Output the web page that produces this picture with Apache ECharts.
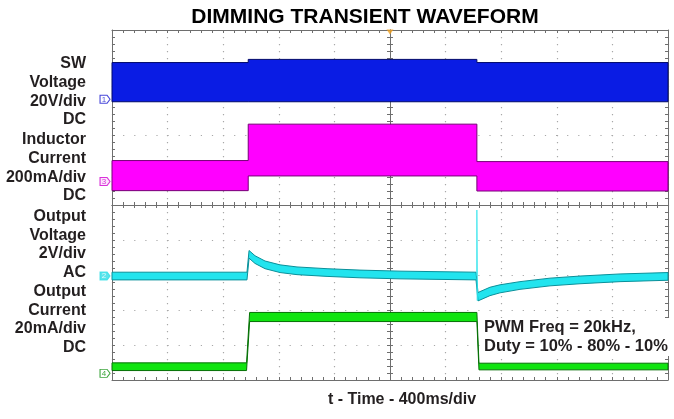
<!DOCTYPE html>
<html><head><meta charset="utf-8">
<script src="https://cdn.jsdelivr.net/npm/echarts@6/dist/echarts.min.js"></script>
<style>html,body{margin:0;padding:0;background:#fff}#c{width:674px;height:419px}</style>
</head><body><div id="c"></div><script>
// Time in ms (400 ms/div, trigger at 0); trace levels in screen divisions (centre line = 0)
const swTime   = [-2000, -1020, -1020, 625, 625, 2000];
const swTop    = [4.07, 4.07, 4.16, 4.16, 4.07, 4.07];
const swBottom = [2.95, 2.95, 2.95, 2.95, 2.95, 2.95];

const ilTime   = [-2000, -1020, -1020, 625, 625, 2000];
const ilTop    = [1.27, 1.27, 2.31, 2.31, 1.24, 1.24];
const ilBottom = [0.41, 0.41, 0.83, 0.83, 0.40, 0.40];

const voTime   = [-2000, -1029, -1014, -971, -899, -791, -669, -453, -216, 72, 619, 633, 719, 791, 935, 1151, 1367, 1655, 2000];
const voTop    = [-1.92, -1.92, -1.30, -1.45, -1.60, -1.71, -1.77, -1.82, -1.86, -1.89, -1.92, -2.50, -2.35, -2.28, -2.19, -2.09, -2.03, -1.97, -1.93];
const voBottom = [-2.14, -2.14, -1.52, -1.67, -1.82, -1.93, -1.99, -2.04, -2.08, -2.11, -2.14, -2.74, -2.59, -2.51, -2.41, -2.31, -2.25, -2.19, -2.15];
const voSpikeTime  = [625, 625, 628];
const voSpikeLevel = [-2.02, -0.14, -2.73];

const ioTime   = [-2000, -1032, -1010, 625, 640, 2000];
const ioTop    = [-4.51, -4.51, -3.07, -3.07, -4.52, -4.52];
const ioBottom = [-4.73, -4.73, -3.33, -3.33, -4.71, -4.71];

const channelNames = ['1', '3', '2', '4'];
const channelRef   = [3.02, 0.67, -2.03, -4.81];
const channelMarkerTime = -2050;
const triggerPoint = [0, 5];

const leftLabels = [
  ['SW', 'Voltage', '20V/div', 'DC'],
  ['Inductor', 'Current', '200mA/div', 'DC'],
  ['Output', 'Voltage', '2V/div', 'AC'],
  ['Output', 'Current', '20mA/div', 'DC']
];
const titleText = 'DIMMING TRANSIENT WAVEFORM';
const xLabel = 't - Time - 400ms/div';
const noteText = ['PWM Freq = 20kHz,', 'Duty = 10% - 80% - 10%'];

const FONT = "'Liberation Sans', Arial, Helvetica, sans-serif";
const TXT = '#231f20';
const gridLine = '#6e6e6e';

function zip(a, b) { return a.map((v, i) => [v, b[i]]); }

function band(name, time, top, bottom, fill, edge) {
  return {
    type: 'custom', name, xAxisIndex: 0, yAxisIndex: 0, data: [[0, 0]], silent: true, z: 3,
    renderItem(params, api) {
      const pts = [];
      for (let k = 0; k < time.length; k++) pts.push(api.coord([time[k], top[k]]));
      for (let k = time.length - 1; k >= 0; k--) pts.push(api.coord([time[k], bottom[k]]));
      return { type: 'polygon', shape: { points: pts }, style: { fill, stroke: edge, lineWidth: 1 } };
    }
  };
}

function xAx(pos, onZero, split) {
  return {
    type: 'value', min: -2000, max: 2000, interval: 400, position: pos,
    axisLine: { show: true, onZero: onZero, onZeroAxisIndex: 0, lineStyle: { color: gridLine, width: 1 } },
    axisTick: { show: true, inside: true, length: 3, lineStyle: { color: gridLine } },
    minorTick: { show: true, splitNumber: 5, length: 3, lineStyle: { color: gridLine } },
    axisLabel: { show: false },
    splitLine: { show: split, lineStyle: { color: '#a8a8a8', width: 1.2, type: [1.2, 5.8] } }
  };
}
function yAx(pos, onZero, split) {
  return {
    type: 'value', min: -5, max: 5, interval: 1, position: pos,
    axisLine: { show: true, onZero: onZero, onZeroAxisIndex: 0, lineStyle: { color: gridLine, width: 1 } },
    axisTick: { show: true, inside: true, length: 3, lineStyle: { color: gridLine } },
    minorTick: { show: true, splitNumber: 5, length: 3, lineStyle: { color: gridLine } },
    axisLabel: { show: false },
    splitLine: { show: split, lineStyle: { color: '#a8a8a8', width: 1.2, type: [1.2, 9.9] } }
  };
}

const markerStyles = [
  { fill: '#ffffff', stroke: '#1a1ad0', text: '#1a1ad0' },
  { fill: '#fbe0fb', stroke: '#d000d0', text: '#d000d0' },
  { fill: '#2fdde6', stroke: '#2fdde6', text: '#ffffff' },
  { fill: '#ffffff', stroke: '#109010', text: '#109010' }
];

const graphics = [];
graphics.push({ type: 'text', x: 365, y: 17.5, z: 100,
  style: { text: titleText, fontFamily: FONT, fontSize: 21, fontWeight: 'bold', fill: '#000', align: 'center', verticalAlign: 'middle' } });
const blockCenters = [64, 140, 216.5, 291.5];
leftLabels.forEach((lines, i) => {
  graphics.push({ type: 'text', x: 86, y: blockCenters[i] - 9.3, z: 100,
    style: { text: lines.join('\n'), fontFamily: FONT, fontSize: 16, fontWeight: 'bold', fill: TXT, align: 'right', verticalAlign: 'top', lineHeight: 18.6 } });
});
graphics.push({ type: 'text', x: 402, y: 400, z: 100,
  style: { text: xLabel, fontFamily: FONT, fontSize: 16, fontWeight: 'bold', fill: TXT, align: 'center', verticalAlign: 'middle' } });
graphics.push({ type: 'text', x: 483, y: 318, z: 100,
  style: { text: noteText.join('\n'), fontFamily: FONT, fontSize: 16.5, fontWeight: 'bold', fill: TXT, align: 'left', verticalAlign: 'top', lineHeight: 19, backgroundColor: '#fff', padding: [0, 2, 0, 1] } });

const chart = echarts.init(document.getElementById('c'));
chart.setOption({
  animation: false,
  backgroundColor: '#fff',
  grid: { left: 112, top: 30, width: 556, height: 350, containLabel: false },
  xAxis: [xAx('bottom', false, true), xAx('top', false, false), xAx('bottom', true, false), xAx('top', true, false)],
  yAxis: [yAx('left', false, true), yAx('right', false, false), yAx('left', true, false), yAx('right', true, false)],
  series: [
    band('SW Voltage', swTime, swTop, swBottom, '#0a1ce4', '#00086a'),
    band('Inductor Current', ilTime, ilTop, ilBottom, '#ff00ff', '#760076'),
    band('Output Voltage', voTime, voTop, voBottom, '#22e4ee', '#0a909a'),
    { type: 'line', name: 'Output Voltage spike', data: zip(voSpikeTime, voSpikeLevel), showSymbol: false, z: 4,
      lineStyle: { color: '#30e4ec', width: 1.2 } },
    band('Output Current', ioTime, ioTop, ioBottom, '#10e410', '#067006'),
    { type: 'scatter', name: 'channels', clip: false, z: 10,
      symbol: 'path://M0,0H7L10,4L7,8H0Z', symbolSize: [10, 8],
      data: channelNames.map((n, i) => ({
        value: [channelMarkerTime, channelRef[i]],
        itemStyle: { color: markerStyles[i].fill, borderColor: markerStyles[i].stroke, borderWidth: 1 },
        label: { show: true, formatter: n, position: 'inside', offset: [-1, 0], color: markerStyles[i].text, fontSize: 8, fontFamily: FONT }
      })) },
    { type: 'scatter', name: 'trigger', clip: false, z: 10, symbol: 'triangle', symbolRotate: 180,
      symbolSize: [7, 5], symbolOffset: [0, 2], itemStyle: { color: '#f0a020' }, data: [triggerPoint] }
  ],
  graphic: graphics
});
</script></body></html>
